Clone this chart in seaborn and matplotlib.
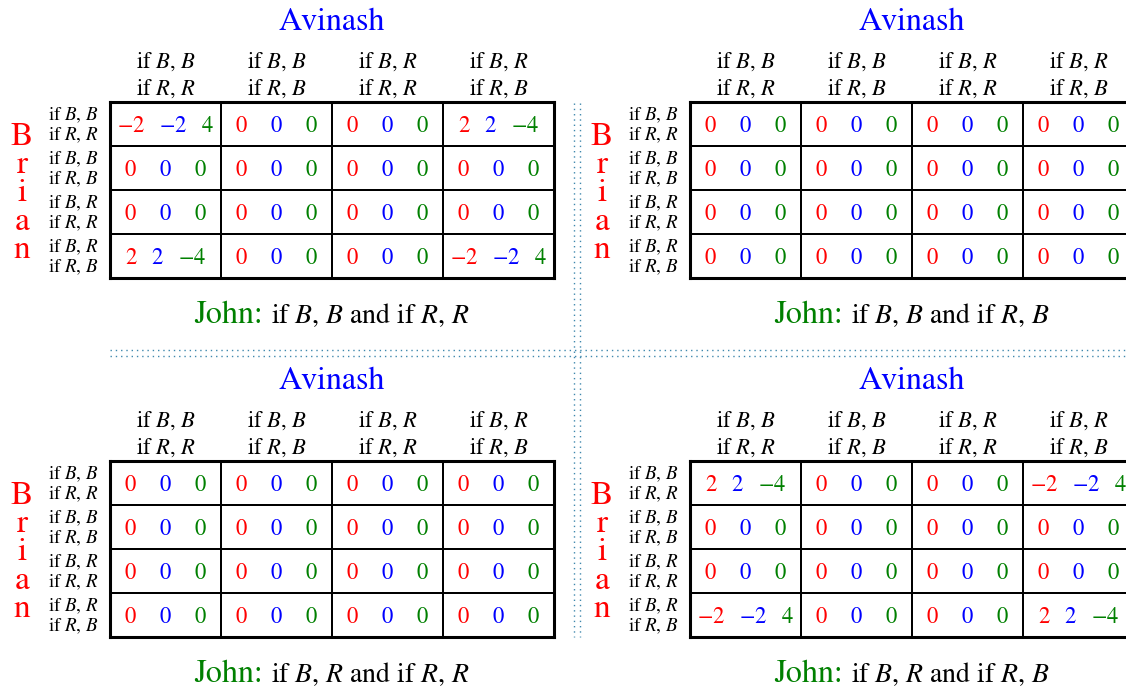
import numpy as np
import pandas as pd
import seaborn as sns
import matplotlib
matplotlib.use("Agg")
import matplotlib.pyplot as plt
from matplotlib.colors import ListedColormap

# ---------------- data ----------------
strat_first = ["if $B$, $B$", "if $B$, $B$", "if $B$, $R$", "if $B$, $R$"]
strat_second = ["if $R$, $R$", "if $R$, $B$", "if $R$, $R$", "if $R$, $B$"]
john_strategies = ["if $B$, $B$ and if $R$, $R$",
                   "if $B$, $B$ and if $R$, $B$",
                   "if $B$, $R$ and if $R$, $R$",
                   "if $B$, $R$ and if $R$, $B$"]

brian_tl = [[-2, 0, 0, 2], [0, 0, 0, 0], [0, 0, 0, 0], [2, 0, 0, -2]]
avinash_tl = [[-2, 0, 0, 2], [0, 0, 0, 0], [0, 0, 0, 0], [2, 0, 0, -2]]
john_tl = [[4, 0, 0, -4], [0, 0, 0, 0], [0, 0, 0, 0], [-4, 0, 0, 4]]

brian_tr = [[0, 0, 0, 0], [0, 0, 0, 0], [0, 0, 0, 0], [0, 0, 0, 0]]
avinash_tr = [[0, 0, 0, 0], [0, 0, 0, 0], [0, 0, 0, 0], [0, 0, 0, 0]]
john_tr = [[0, 0, 0, 0], [0, 0, 0, 0], [0, 0, 0, 0], [0, 0, 0, 0]]

brian_bl = [[0, 0, 0, 0], [0, 0, 0, 0], [0, 0, 0, 0], [0, 0, 0, 0]]
avinash_bl = [[0, 0, 0, 0], [0, 0, 0, 0], [0, 0, 0, 0], [0, 0, 0, 0]]
john_bl = [[0, 0, 0, 0], [0, 0, 0, 0], [0, 0, 0, 0], [0, 0, 0, 0]]

brian_br = [[2, 0, 0, -2], [0, 0, 0, 0], [0, 0, 0, 0], [-2, 0, 0, 2]]
avinash_br = [[2, 0, 0, -2], [0, 0, 0, 0], [0, 0, 0, 0], [-2, 0, 0, 2]]
john_br = [[-4, 0, 0, 4], [0, 0, 0, 0], [0, 0, 0, 0], [4, 0, 0, -4]]

panels = [
    (brian_tl, avinash_tl, john_tl, john_strategies[0]),
    (brian_tr, avinash_tr, john_tr, john_strategies[1]),
    (brian_bl, avinash_bl, john_bl, john_strategies[2]),
    (brian_br, avinash_br, john_br, john_strategies[3]),
]

# ---------------- style ----------------
sns.set_theme(style="white")
plt.rcParams["font.family"] = ["STIXGeneral", "DejaVu Serif"]
plt.rcParams["mathtext.fontset"] = "stix"
plt.rcParams["lines.scale_dashes"] = False

RED, BLUE, GREEN = "#ff0000", "#0000ff", "#008000"
DOT = "#3f88ad"

W, H = 1126, 690
fig = plt.figure(figsize=(W / 100, H / 100), dpi=100)
bg = fig.add_axes([0, 0, 1, 1])
bg.set_xlim(0, W)
bg.set_ylim(H, 0)
bg.axis("off")

CW, CH = 111, 44
offsets = [(0, 0), (580, 0), (0, 359), (580, 359)]

cell_items = []
john_items = []
for (brian, avinash, john, jstr), (dx, dy) in zip(panels, offsets):
    x0, y0 = 110 + dx, 102 + dy
    ax = fig.add_axes([x0 / W, 1 - (y0 + 4 * CH) / H, 4 * CW / W, 4 * CH / H])
    sns.heatmap(pd.DataFrame(np.array(john)), ax=ax, cmap=ListedColormap(["white"]),
                cbar=False, linewidths=1.4, linecolor="black",
                xticklabels=False, yticklabels=False)
    ax.set_xlabel("")
    ax.set_ylabel("")
    for sp in ax.spines.values():
        sp.set_visible(True)
        sp.set_linewidth(2.2)
        sp.set_color("black")

    for r in range(4):
        for c in range(4):
            vals = [brian[r][c], avinash[r][c], john[r][c]]
            ts = []
            for v, col in zip(vals, [RED, BLUE, GREEN]):
                t = ax.text(c + 0.5, r + 0.5 + 8 / CH, f"${v}$", color=col,
                            fontsize=16.3, ha="center", va="baseline")
                ts.append(t)
            cell_items.append((c, ts, all(v == 0 for v in vals)))

    # Avinash title
    bg.text(x0 + 2 * CW, y0 - 72, "Avinash", color=BLUE, fontsize=23,
            ha="center", va="baseline")
    # column headers
    for c in range(4):
        bg.text(x0 + CW * (c + 0.5), y0 - 34, strat_first[c], fontsize=16.3,
                ha="center", va="baseline", color="black")
        bg.text(x0 + CW * (c + 0.5), y0 - 7, strat_second[c], fontsize=16.3,
                ha="center", va="baseline", color="black")
    # row labels
    for r in range(4):
        bg.text(x0 - 11, y0 + CH * r + 18, strat_first[r], fontsize=13.7,
                ha="right", va="baseline", color="black")
        bg.text(x0 - 11, y0 + CH * r + 38, strat_second[r], fontsize=13.7,
                ha="right", va="baseline", color="black")
    # Brian vertical
    for k, ch in enumerate("Brian"):
        bg.text(x0 - 88, y0 + 43 + 28.2 * k, ch, color=RED, fontsize=24,
                ha="center", va="baseline")
    # John line
    t1 = bg.text(0, y0 + 221, "John:", color=GREEN, fontsize=23, ha="left", va="baseline")
    t2 = bg.text(0, y0 + 221, jstr, color="black", fontsize=20, ha="left", va="baseline")
    john_items.append((x0 + 2 * CW, t1, t2))

# dotted separators (double lines)
for yy in (350, 355.5):
    bg.plot([110, W], [yy, yy], color=DOT, lw=1.0, dashes=(1.0, 2.8))
for xx in (574.3, 580):
    bg.plot([xx, xx], [103, 637], color=DOT, lw=1.0, dashes=(1.0, 2.8))

# layout text based on measured widths
fig.canvas.draw()
rend = fig.canvas.get_renderer()
for c, ts, allzero in cell_items:
    ws = [t.get_window_extent(rend).width for t in ts]
    g = 22 if allzero else 14
    total = sum(ws) + 2 * g
    x = -total / 2
    for t, w in zip(ts, ws):
        t.set_x(c + 0.5 + (x + w / 2) / CW)
        x += w + g
for xc, t1, t2 in john_items:
    w1 = t1.get_window_extent(rend).width
    w2 = t2.get_window_extent(rend).width
    gap = 8
    start = xc - (w1 + gap + w2) / 2
    t1.set_x(start)
    t2.set_x(start + w1 + gap)

fig.savefig("out.png", dpi=100)
